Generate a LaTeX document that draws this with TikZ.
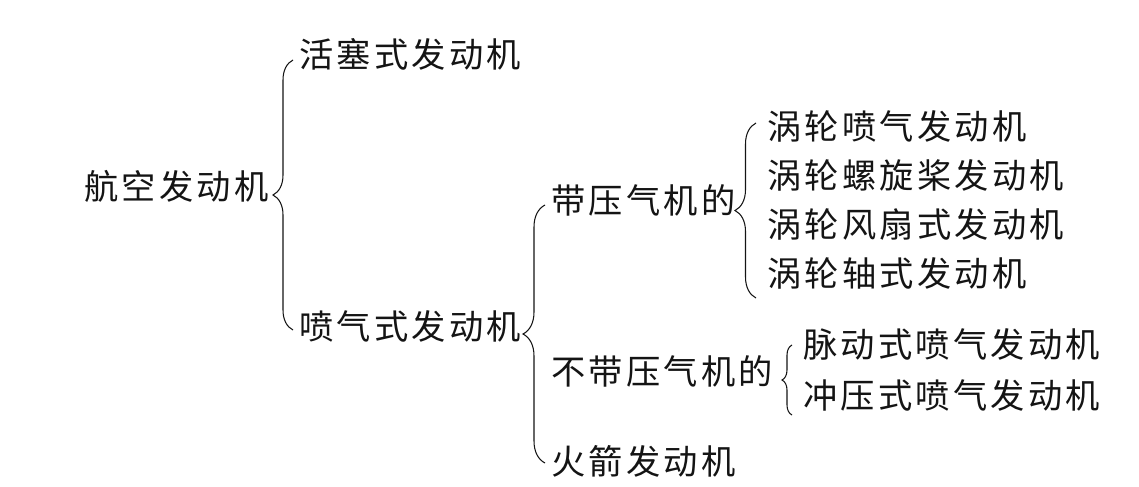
\documentclass[tikz,border=0pt]{standalone}
\usepackage{fontspec}
\setmainfont{Noto Sans CJK SC}[LetterSpace=9.5]
\usetikzlibrary{positioning,calc,decorations.pathreplacing}
\definecolor{ink}{RGB}{20,20,20}
\tikzset{
	term/.style={anchor=west,inner sep=0pt,text=ink,font=\fontsize{19.5}{21}\selectfont},
	bracket/.style={draw=ink,line width=0.6pt,decorate,decoration={brace,amplitude=#1}},
}

\begin{document}
\begin{tikzpicture}
	\useasboundingbox (0,0) rectangle (22.78,-9.72);
	
	% root and first level
	\node[term] (aero) at (1.68,-3.72) {航空发动机};
	\node[term] (piston) at (5.98,-1.08) {活塞式发动机};
	\node[term] (jet) at (5.98,-6.52) {喷气式发动机};
	
	% second level
	\node[term] (withcomp) at (11.02,-4.00) {带压气机的};
	\node[term] (nocomp) at (11.02,-7.42) {不带压气机的};
	\node[term] (rocket) at (11.02,-9.22) {火箭发动机};
	
	% third level
	\node[term] (turbojet) at (15.34,-2.52) {涡轮喷气发动机};
	\node[term] (turboprop) at (15.34,-3.50) {涡轮螺旋桨发动机};
	\node[term] (turbofan) at (15.34,-4.48) {涡轮风扇式发动机};
	\node[term] (turboshaft) at (15.34,-5.46) {涡轮轴式发动机};
	\node[term] (pulse) at (16.06,-6.88) {脉动式喷气发动机};
	\node[term] (ramjet) at (16.06,-7.90) {冲压式喷气发动机};
	
	% braces, drawn upwards so the tip faces the parent
	\draw[bracket=0.40cm] ([shift={(-0.12,-0.08)}]jet.west) -- ([shift={(-0.12,-0.12)}]piston.west);
	\draw[bracket=0.44cm] ([shift={(-0.12,-0.04)}]rocket.west) -- ([shift={(-0.12,-0.10)}]withcomp.west);
	\draw[bracket=0.42cm] ([shift={(-0.22,-0.50)}]turboshaft.west) -- ([shift={(-0.22,0.06)}]turbojet.west);
	\draw[bracket=0.20cm] ([shift={(-0.22,-0.40)}]ramjet.west) -- ([shift={(-0.22,-0.02)}]pulse.west);
	
\end{tikzpicture}
\end{document}
